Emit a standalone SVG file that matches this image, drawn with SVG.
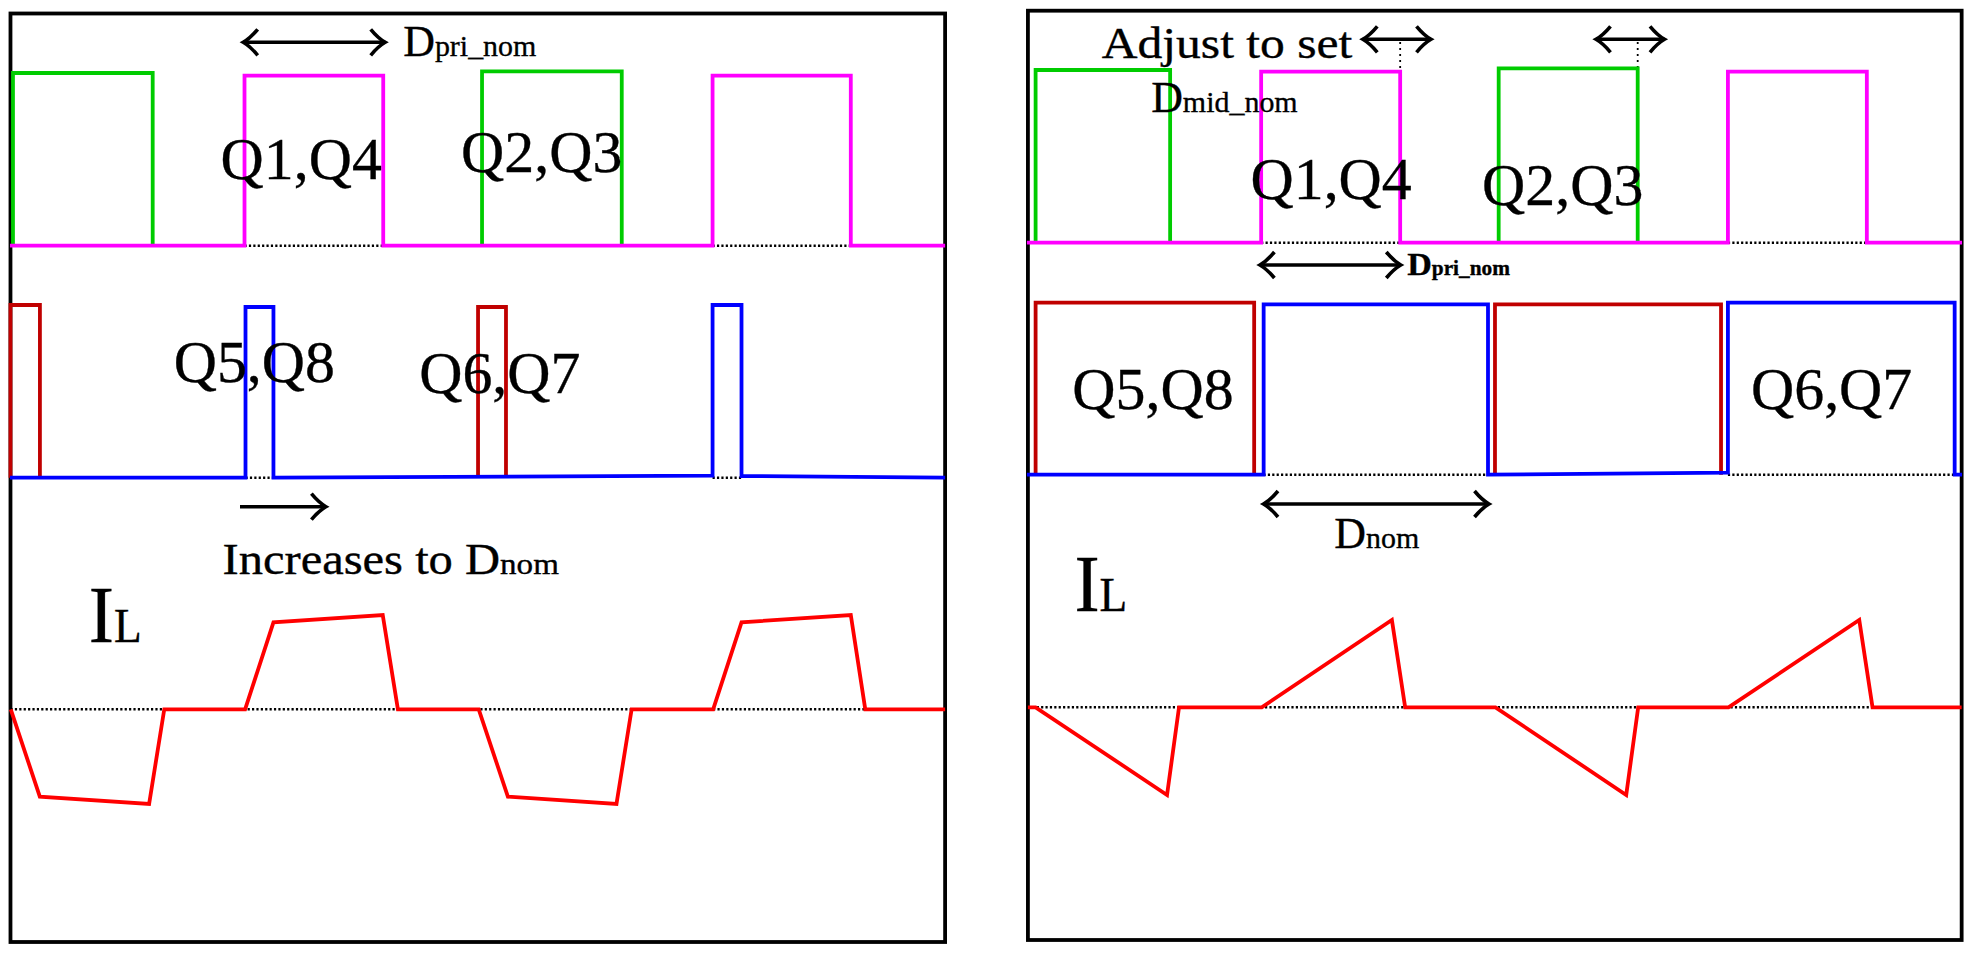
<svg xmlns="http://www.w3.org/2000/svg" width="1974" height="954" viewBox="0 0 1974 954">
<style>
text{font-family:"Liberation Serif","Times New Roman",serif;fill:#000;stroke:#000;stroke-width:.35}
.q{font-size:60px}
.m{font-size:44px}
.sub{font-size:30px}
.i{font-size:80px}
.l{font-size:48px}
.f{fill:none;stroke:#000;stroke-width:3.8}
.w{fill:none;stroke-width:3.8;stroke-linejoin:miter}
.g{stroke:#00CC00}.p{stroke:#FF00FF}.r{stroke:#C00000}.b{stroke:#0000FF}.c{stroke:#FF0000}
.d{fill:none;stroke:#000;stroke-width:2.4;stroke-dasharray:2.2 2.2}
.v{fill:none;stroke:#000;stroke-width:1.8;stroke-dasharray:2 4}
.a{fill:none;stroke:#000;stroke-width:3.6}
.two{marker-start:url(#h);marker-end:url(#h)}
.one{marker-end:url(#h)}
</style>
<defs>
<marker id="h" markerUnits="userSpaceOnUse" markerWidth="40" markerHeight="40" refX="20" refY="20" orient="auto-start-reverse" overflow="visible">
<path d="M5.5,7 Q13,16 20,20 Q13,24 5.5,33" fill="none" stroke="#000" stroke-width="3.6"/>
</marker>
</defs>
<rect width="1974" height="954" fill="#fff"/>
<g id="panel-left" transform="scale(.998 1)">
<rect class="f" x="10.5" y="13.5" width="936.5" height="928.5"/>
<path class="d" d="M245,245.7H384M714,245.7H852.5M246,477.7H274M714,477.7H743M10.5,709.3H947"/>
<path id="l-green" class="w g" d="M13,245.7V73H153V245.7M483,245.7V71.3H623V245.7"/>
<path id="l-magenta" class="w p" d="M10,245.7H245V75.7H384V245.7H714V75.7H852.5V245.7H947"/>
<path id="l-red" class="w r" d="M10.5,477.7V305H40V477.7M479,477V307H507V477"/>
<path id="l-blue" class="w b" d="M10,477.7H246V307H274V477.7L714,475.7V305H743V476L947,477.7"/>
<path id="l-il" class="w c" d="M10.8,709.3L39.9,796.7L149.4,804L164.6,709.3H245.6L274,622.3L383.5,615L398.7,709.3H479.7L508.9,796.7L617.7,804L632.9,709.3H714.6L743,622.3L852.5,615L867,709.3H947"/>
<text class="m" x="404" y="56">D<tspan class="sub">pri_nom</tspan></text>
<text class="q" x="221" y="179">Q1,Q4</text>
<text class="q" x="462" y="172">Q2,Q3</text>
<text class="q" x="174" y="382">Q5,Q8</text>
<text class="q" x="420" y="393">Q6,Q7</text>
<text class="m" x="223" y="574" textLength="337" lengthAdjust="spacingAndGlyphs">Increases to D<tspan class="sub">nom</tspan></text>
<text class="i" x="89" y="642" textLength="53" lengthAdjust="spacingAndGlyphs">I<tspan class="l">L</tspan></text>
</g>
<g id="panel-right" transform="translate(1.974 0) scale(.998 1)">
<rect class="f" x="1028" y="10.7" width="935.6" height="929.3"/>
<path class="d" d="M1261.7,242.7H1401M1729.4,242.7H1868.6M1264,474.7H1489M1729.4,474.7H1963.6M1028,707.3H1963.6"/>
<path class="v" d="M1401,42V70M1639,42V68"/>
<path id="r-green" class="w g" d="M1035.7,242.7V70H1170.5V242.7M1499.7,242.7V68.3H1639V242.7"/>
<path id="r-magenta" class="w p" d="M1027,242.7H1261.7V71.7H1401V242.7H1729.4V71.7H1868.6V242.7H1964"/>
<path id="r-red" class="w r" d="M1035.7,474.7V302.7H1254.7V474.7M1496,473V304.3H1722.5V474.7"/>
<path id="r-blue" class="w b" d="M1027,474.7H1264.2V304.3H1489V474.7L1729.4,472.7V302.7H1956.6V474.7H1964"/>
<path id="r-il" class="w c" d="M1028,707.3H1035.7L1167.4,795L1179.4,707.3H1262.3L1392.7,620L1406,707.3H1496.5L1627.5,795L1639.5,707.3H1730L1861,620L1874.3,707.3H1963.6"/>
<text class="m" x="1102" y="58.3" textLength="251" lengthAdjust="spacingAndGlyphs">Adjust to set</text>
<text class="m" x="1151.5" y="112.3">D<tspan class="sub">mid_nom</tspan></text>
<text class="q" x="1251" y="199">Q1,Q4</text>
<text class="q" x="1483" y="205">Q2,Q3</text>
<text class="q" x="1072.5" y="409">Q5,Q8</text>
<text class="q" x="1752.5" y="409">Q6,Q7</text>
<text x="1408" y="275" font-size="32" font-weight="bold" textLength="103" lengthAdjust="spacingAndGlyphs">D<tspan font-size="20">pri_nom</tspan></text>
<text class="m" x="1335" y="547.7">D<tspan class="sub">nom</tspan></text>
<text class="i" x="1074.6" y="611" textLength="53" lengthAdjust="spacingAndGlyphs">I<tspan class="l">L</tspan></text>
</g>
<g id="connectors">
<path class="a two" d="M243.2,42.3H385.2"/>
<path class="a one" d="M240,506.7H325.9"/>
<path class="a two" d="M1362.8,39.3H1431"/>
<path class="a two" d="M1596,39.3H1664.5"/>
<path class="a two" d="M1259.9,265H1400.8"/>
<path class="a two" d="M1263.5,504H1489"/>
</g>
</svg>
